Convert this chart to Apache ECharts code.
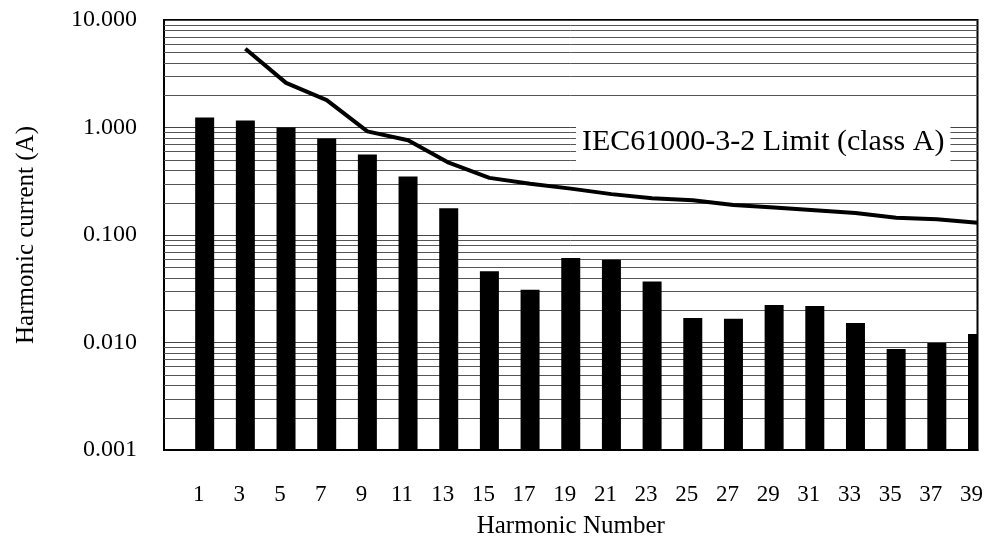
<!DOCTYPE html>
<html><head><meta charset="utf-8">
<script src="https://cdn.jsdelivr.net/npm/echarts@6/dist/echarts.min.js"></script>
<style>html,body{margin:0;padding:0;background:#fff}#c{width:986px;height:547px}</style>
</head><body><div id="c"></div>
<script>
const categories = ['1','3','5','7','9','11','13','15','17','19','21','23','25','27','29','31','33','35','37','39'];
const measured = [1.24,1.16,1.0,0.79,0.56,0.35,0.177,0.046,0.031,0.061,0.059,0.037,0.0169,0.0166,0.0223,0.0218,0.0152,0.0087,0.0099,0.012];
const limitA = [null,5.4,2.6,1.8,0.92,0.76,0.47,0.34,0.30,0.27,0.24,0.22,0.21,0.19,0.18,0.17,0.16,0.145,0.14,0.13];
const yTicks = [0.001,0.01,0.1,1,10];
const minorGrid = [];
yTicks.slice(0,-1).forEach(d=>{for(let k=2;k<=9;k++) minorGrid.push(+(d*k).toPrecision(3));});

const axisCats = [''].concat(categories);
const barData = measured.map((v,i)=>[i+1,v]);
const lineData = [null].concat(limitA);
const gridData = minorGrid.map(v=>[0,v]);
const font = 'Liberation Serif';
const chart = echarts.init(document.getElementById('c'));
chart.setOption({
  animation:false,
  backgroundColor:'#fff',
  grid:{left:164,right:8,top:20,bottom:97,show:true,borderColor:'#000',borderWidth:2,backgroundColor:'transparent'},
  xAxis:{type:'category',data:axisCats,boundaryGap:false,
    axisLine:{show:true,lineStyle:{color:'#000',width:2}},
    axisTick:{show:false},
    splitLine:{show:false},
    axisLabel:{color:'#000',fontFamily:font,fontSize:23,margin:33,padding:[0,12,0,0],interval:0},
    name:'Harmonic Number',nameLocation:'middle',nameGap:64,
    nameTextStyle:{color:'#000',fontFamily:font,fontSize:25}},
  yAxis:{type:'log',logBase:10,min:yTicks[0],max:yTicks[yTicks.length-1],splitNumber:4,
    axisLine:{show:true,lineStyle:{color:'#000',width:2}},
    axisTick:{show:false},
    axisLabel:{color:'#000',fontFamily:font,fontSize:24,margin:27,formatter:v=>Number(v).toFixed(3)},
    splitLine:{show:true,lineStyle:{color:'#444',width:1}},
    name:'Harmonic current (A)',nameLocation:'middle',nameGap:125,nameRotate:90,
    nameTextStyle:{color:'#000',fontFamily:font,fontSize:25}},
  series:[
    {type:'custom',data:gridData,encode:{x:0,y:1},z:1,silent:true,
     renderItem:(params,api)=>{
       const cs=params.coordSys; const y=Math.round(api.coord([0,api.value(1)])[1])+0.5;
       return {type:'line',shape:{x1:cs.x,y1:y,x2:cs.x+cs.width,y2:y},style:{stroke:'#555',lineWidth:1}};
     }},
    {type:'custom',data:barData,encode:{x:0,y:1},z:3,clip:true,
     renderItem:(params,api)=>{
       const top=api.coord([api.value(0),api.value(1)]);
       const base=api.coord([api.value(0),yTicks[0]]);
       const w=19;
       return {type:'rect',shape:{x:top[0]-w/2,y:top[1],width:w,height:base[1]-top[1]},style:{fill:'#000'}};
     }},
    {type:'line',data:lineData,showSymbol:false,symbol:'none',connectNulls:false,
     lineStyle:{color:'#000',width:4},z:4}
  ],
  graphic:[{type:'text',left:576,top:123,z:10,
    style:{text:'IEC61000-3-2 Limit (class A)',fill:'#000',font:'30px "Liberation Serif"',
      backgroundColor:'#fff',padding:[4,6,4,6]}}]
});
</script></body></html>
